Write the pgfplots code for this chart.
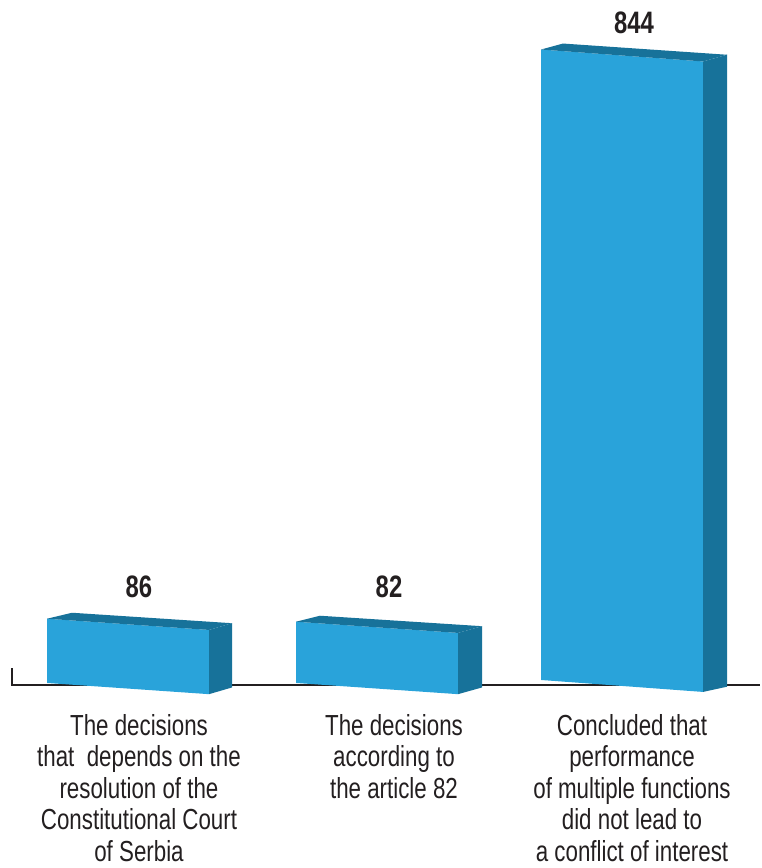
\documentclass[border=0pt]{standalone}
\usepackage{fontspec}
\setmainfont{Liberation Sans}[FakeStretch=0.77]
\usepackage{pgfplots}
\pgfplotsset{compat=1.18}
\definecolor{front}{HTML}{29A3DA}
\definecolor{side}{HTML}{17729A}
\definecolor{axisline}{HTML}{231F20}
\begin{document}
\begin{tikzpicture}
\begin{axis}[
 name=ax,
 width=760pt, height=868pt, scale only axis,
 xmin=0, xmax=760, ymin=-247.7, ymax=914.3,
 hide axis, clip=false,
]
% baseline and left tick
\addplot[draw=axisline, line width=2pt] coordinates {(12,20) (12,-2.7) (760,-2.7)};
% bar 1: value 86
\addplot[fill=front, draw=none] coordinates {(47,0) (209,-15) (209,71) (47,86)} -- cycle;
\addplot[fill=side, draw=none] coordinates {(209,-15) (232,-6) (232,80) (209,71)} -- cycle;
\addplot[fill=side, draw=none] coordinates {(47,86) (72,94) (232,80) (209,71)} -- cycle;
% bar 2: value 82
\addplot[fill=front, draw=none] coordinates {(296,0) (458,-15) (458,67) (296,82)} -- cycle;
\addplot[fill=side, draw=none] coordinates {(458,-15) (482,-6) (482,76) (458,67)} -- cycle;
\addplot[fill=side, draw=none] coordinates {(296,82) (320,90) (482,76) (458,67)} -- cycle;
% bar 3: value 844
\addplot[fill=front, draw=none] coordinates {(541,4) (703,-12) (703,832) (541,848)} -- cycle;
\addplot[fill=side, draw=none] coordinates {(703,-12) (727,-5) (727,841) (703,832)} -- cycle;
\addplot[fill=side, draw=none] coordinates {(541,848) (563,856) (727,841) (703,832)} -- cycle;
% value labels
\node[anchor=base, font=\fontsize{31}{34}\selectfont\bfseries, text=axisline] at (axis cs:139,114) {86};
\node[anchor=base, font=\fontsize{31}{34}\selectfont\bfseries, text=axisline] at (axis cs:389,114) {82};
\node[anchor=base, font=\fontsize{31}{34}\selectfont\bfseries, text=axisline] at (axis cs:634,869) {844};
% category labels
\node[anchor=north, inner sep=0pt, align=center, font=\fontsize{29}{31.4}\selectfont, text=axisline] at (axis cs:139,-42) {The decisions\\that\ \ depends on the\\resolution of the\\Constitutional Court\\of Serbia};
\node[anchor=north, inner sep=0pt, align=center, font=\fontsize{29}{31.4}\selectfont, text=axisline] at (axis cs:394,-42) {The decisions\\according to\\the article 82};
\node[anchor=north, inner sep=0pt, align=center, font=\fontsize{29}{31.4}\selectfont, text=axisline] at (axis cs:632,-42) {Concluded that\\performance\\of multiple functions\\did not lead to\\a conflict of interest};
\end{axis}
\path (ax.south west) rectangle (ax.north east);
\end{tikzpicture}
\end{document}
